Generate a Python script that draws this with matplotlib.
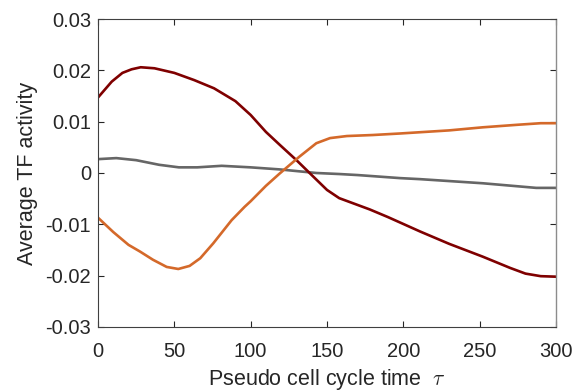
import matplotlib
matplotlib.use('Agg')
import matplotlib.pyplot as plt

plt.rcParams['font.family'] = ['Liberation Sans', 'DejaVu Sans']
plt.rcParams['mathtext.fontset'] = 'cm'

# values
red_x = [0, 9, 16, 22, 28, 37, 50, 63, 76, 90, 100, 110, 119, 130, 141, 150, 158,
         168, 178, 190, 211, 230, 252, 270, 280, 290, 300]
red_y = [0.0147, 0.0178, 0.0195, 0.0202, 0.0206, 0.0204, 0.0195, 0.0181, 0.0165, 0.0140,
         0.0113, 0.0080, 0.0055, 0.0025, -0.0007, -0.0033, -0.0049, -0.0060, -0.0071,
         -0.0086, -0.0114, -0.0138, -0.0163, -0.0185, -0.0196, -0.0201, -0.0202]

orange_x = [0, 10, 20, 27.5, 36, 45, 52.6, 60, 67, 75.5, 87.5, 96, 100, 110, 119, 132,
            143, 152, 163, 180, 198, 230, 252, 275, 290, 300]
orange_y = [-0.0087, -0.0115, -0.0140, -0.0153, -0.0169, -0.0183, -0.0187, -0.0181,
            -0.0166, -0.0137, -0.0092, -0.0066, -0.0055, -0.0025, -0.0001, 0.0032, 0.0058,
            0.0068, 0.0072, 0.0074, 0.0077, 0.0083, 0.0089, 0.0094, 0.0097, 0.0097]

gray_x = [0, 12, 25, 40, 53, 65, 81, 100, 119, 143, 158, 170, 198, 211, 252, 287, 300]
gray_y = [0.0027, 0.0029, 0.0025, 0.0016, 0.0011, 0.0011, 0.0014, 0.0011, 0.0007,
          0.0000, -0.0002, -0.0004, -0.0010, -0.0012, -0.0020, -0.0029, -0.0029]

x_ticks = [0, 50, 100, 150, 200, 250, 300]
y_ticks = [-0.03, -0.02, -0.01, 0, 0.01, 0.02, 0.03]
y_tick_labels = ['-0.03', '-0.02', '-0.01', '0', '0.01', '0.02', '0.03']

fig = plt.figure(figsize=(5.74, 3.91), dpi=100)
ax = fig.add_axes([0.1707, 0.1637, 0.798, 0.7877])

ax.plot(gray_x, gray_y, color='#666666', lw=1.9, solid_joinstyle='round')
ax.plot(red_x, red_y, color='#7f0000', lw=1.9, solid_joinstyle='round')
ax.plot(orange_x, orange_y, color='#d4692a', lw=1.9, solid_joinstyle='round')

ax.set_xlim(0, 300)
ax.set_ylim(-0.03, 0.03)
ax.set_xticks(x_ticks)
ax.set_yticks(y_ticks)
ax.set_yticklabels(y_tick_labels)
ax.tick_params(direction='in', top=True, right=True, labelsize=14.5,
               colors='#262626', length=4, width=0.8)
ax.tick_params(axis='y', pad=5)
ax.tick_params(axis='x', pad=11)
for side in ['left', 'bottom', 'top']:
    ax.spines[side].set_color('#404040')
    ax.spines[side].set_linewidth(0.8)
ax.spines['right'].set_color('#8c8c8c')
ax.spines['right'].set_linewidth(1.0)

ax.set_xlabel(r'Pseudo cell cycle time  $\tau$', fontsize=15.5, color='#262626', labelpad=4)
ax.set_ylabel('Average TF activity', fontsize=15.5, color='#262626', labelpad=5)

fig.savefig('out.png', dpi=100)
